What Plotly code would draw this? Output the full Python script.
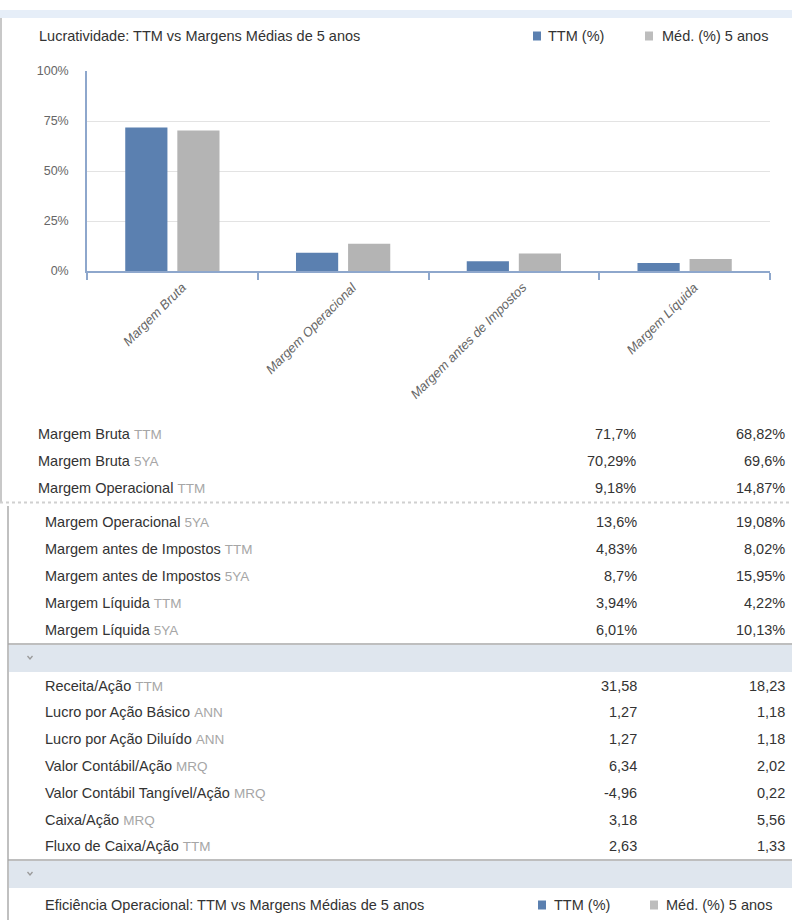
import plotly.graph_objects as go

W, H = 792, 920

# ---------------- data ----------------
categories = ["Margem Bruta", "Margem Operacional", "Margem antes de Impostos", "Margem Líquida"]
ttm_pct = [71.7, 9.18, 4.83, 3.94]
avg5_pct = [70.29, 13.6, 8.7, 6.01]
y_tick_vals = [0, 25, 50, 75, 100]
y_tick_text = ["0%", "25%", "50%", "75%", "100%"]

chart_title = "Lucratividade: TTM vs Margens Médias de 5 anos"
legend_names = ["TTM (%)", "Méd. (%) 5 anos"]

rows_a_labels = ["Margem Bruta", "Margem Bruta", "Margem Operacional"]
rows_a_tags = ["TTM", "5YA", "TTM"]
rows_a_col1 = ["71,7%", "70,29%", "9,18%"]
rows_a_col2 = ["68,82%", "69,6%", "14,87%"]

rows_b_labels = ["Margem Operacional", "Margem antes de Impostos", "Margem antes de Impostos",
                 "Margem Líquida", "Margem Líquida"]
rows_b_tags = ["5YA", "TTM", "5YA", "TTM", "5YA"]
rows_b_col1 = ["13,6%", "4,83%", "8,7%", "3,94%", "6,01%"]
rows_b_col2 = ["19,08%", "8,02%", "15,95%", "4,22%", "10,13%"]

rows_c_labels = ["Receita/Ação", "Lucro por Ação Básico", "Lucro por Ação Diluído",
                 "Valor Contábil/Ação", "Valor Contábil Tangível/Ação", "Caixa/Ação",
                 "Fluxo de Caixa/Ação"]
rows_c_tags = ["TTM", "ANN", "ANN", "MRQ", "MRQ", "MRQ", "TTM"]
rows_c_col1 = ["31,58", "1,27", "1,27", "6,34", "-4,96", "3,18", "2,63"]
rows_c_col2 = ["18,23", "1,18", "1,18", "2,02", "0,22", "5,56", "1,33"]

footer_title = "Eficiência Operacional: TTM vs Margens Médias de 5 anos"

# ---------------- styles ----------------
BLUE = "#5b80b0"
GRAY = "#b4b4b4"
TXT = "#333333"
TAG = "#a6a6a6"
AXIS = "#8ea7cc"
FONT = "Liberation Sans, Arial, sans-serif"
FS = 14.5


def px(x):
    return x / W


def py(y):
    return 1 - y / H


fig = go.Figure()
fig.add_trace(go.Bar(x=categories, y=ttm_pct, name=legend_names[0], marker_color=BLUE,
                     marker_line_width=0, showlegend=False))
fig.add_trace(go.Bar(x=categories, y=avg5_pct, name=legend_names[1], marker_color=GRAY,
                     marker_line_width=0, showlegend=False))

shapes = []
ann = []

# top band
shapes.append(dict(type="rect", xref="paper", yref="paper", x0=0, x1=1, y0=py(18), y1=py(10),
                   fillcolor="#e6eef8", line_width=0, layer="below"))
# left border upper segment
shapes.append(dict(type="line", xref="paper", yref="paper", x0=px(1), x1=px(1), y0=py(18), y1=py(503),
                   line=dict(color="#c8c8c8", width=2)))
# seam line
shapes.append(dict(type="line", xref="paper", yref="paper", x0=0, x1=1, y0=py(502.5), y1=py(502.5),
                   line=dict(color="#d0d0d0", width=2, dash="dot")))
# left border lower segment
shapes.append(dict(type="line", xref="paper", yref="paper", x0=px(8), x1=px(8), y0=py(506), y1=0,
                   line=dict(color="#c0c0c0", width=2)))

# section bands
for top in (644, 860):
    shapes.append(dict(type="line", xref="paper", yref="paper", x0=px(8), x1=1, y0=py(top), y1=py(top),
                       line=dict(color="#a8a8a8", width=1.5)))
    shapes.append(dict(type="rect", xref="paper", yref="paper", x0=px(9), x1=1, y0=py(top + 28),
                       y1=py(top + 1), fillcolor="#dfe6ee", line_width=0, layer="below"))
    cy = top + 14
    shapes.append(dict(type="path", xref="paper", yref="paper",
                       path=f"M {px(27.5)} {py(cy - 2)} L {px(30)} {py(cy + 1)} L {px(32.5)} {py(cy - 2)}",
                       line=dict(color="#9a9a9a", width=1.3)))

# chart title
ann.append(dict(text=chart_title, x=px(37), y=py(36), xref="paper", yref="paper", xanchor="left",
                yanchor="middle", showarrow=False, font=dict(family=FONT, size=FS, color=TXT)))

# rotated category labels (anchored to the category axis)
for c in categories:
    ann.append(dict(text=c, x=c, xref="x", xshift=19, y=py(277), yref="paper",
                    xanchor="right", yanchor="top", textangle=-45, showarrow=False,
                    font=dict(family=FONT, size=13, color="#666666", style="italic")))


def legend(x_sq, x_txt, x_sq2, x_txt2, y):
    shapes.append(dict(type="rect", xref="paper", yref="paper", x0=px(x_sq), x1=px(x_sq + 8),
                       y0=py(y + 4.5), y1=py(y - 4.5), fillcolor=BLUE, line_width=0))
    shapes.append(dict(type="rect", xref="paper", yref="paper", x0=px(x_sq2), x1=px(x_sq2 + 8),
                       y0=py(y + 4.5), y1=py(y - 4.5), fillcolor="#bdbdbd", line_width=0))
    ann.append(dict(text=legend_names[0], x=px(x_txt), y=py(y), xref="paper", yref="paper",
                    xanchor="left", yanchor="middle", showarrow=False,
                    font=dict(family=FONT, size=FS, color=TXT)))
    ann.append(dict(text=legend_names[1], x=px(x_txt2), y=py(y), xref="paper", yref="paper",
                    xanchor="left", yanchor="middle", showarrow=False,
                    font=dict(family=FONT, size=FS, color=TXT)))


legend(533, 546, 645, 660, 36)


def rows(labels, tags, c1, c2, ys, xl, xc1, xc2):
    for lab, tag, v1, v2, y in zip(labels, tags, c1, c2, ys):
        ann.append(dict(text=f"{lab} <span style='color:{TAG};font-size:13.5px'>{tag}</span>",
                        x=px(xl), y=py(y), xref="paper", yref="paper", xanchor="left",
                        yanchor="middle", showarrow=False, font=dict(family=FONT, size=FS, color=TXT)))
        for v, xc in ((v1, xc1), (v2, xc2)):
            ann.append(dict(text=v, x=px(xc), y=py(y), xref="paper", yref="paper", xanchor="right",
                            yanchor="middle", showarrow=False, font=dict(family=FONT, size=FS, color=TXT)))


rows(rows_a_labels, rows_a_tags, rows_a_col1, rows_a_col2, [434, 461, 488], 36, 638, 787)
rows(rows_b_labels, rows_b_tags, rows_b_col1, rows_b_col2, [522, 549, 576, 603, 630], 43, 639, 787)
rows(rows_c_labels, rows_c_tags, rows_c_col1, rows_c_col2, [686, 712, 739, 766, 793, 820, 846], 43, 639, 787)

ann.append(dict(text=footer_title, x=px(43), y=py(905), xref="paper", yref="paper", xanchor="left",
                yanchor="middle", showarrow=False, font=dict(family=FONT, size=FS, color=TXT)))
legend(538, 552, 650, 664, 905)

fig.update_layout(
    width=W, height=H, margin=dict(l=0, r=0, t=0, b=0, pad=0, autoexpand=False),
    paper_bgcolor="white", plot_bgcolor="white",
    barmode="group", bargap=0.39, bargroupgap=0.19,
    shapes=shapes, annotations=ann,
    xaxis=dict(domain=[px(87), px(770)], showline=True, linecolor=AXIS, linewidth=1.5,
               ticks="outside", tickson="boundaries", ticklen=7, tickcolor=AXIS, tickwidth=1.5,
               showticklabels=False, showgrid=False, automargin=False),
    yaxis=dict(domain=[py(271), py(71)], range=[0, 100], tickvals=y_tick_vals, ticktext=y_tick_text,
               showline=True, linecolor=AXIS, linewidth=1.5, showgrid=True, gridcolor="#e3e3e3",
               gridwidth=1, zeroline=False, ticks="", ticklabelstandoff=14, automargin=False,
               tickfont=dict(family=FONT, size=12.5, color="#666666")),
)

fig.write_html("out.html", config={"displayModeBar": False},
               post_script="document.body.style.margin='0';")
